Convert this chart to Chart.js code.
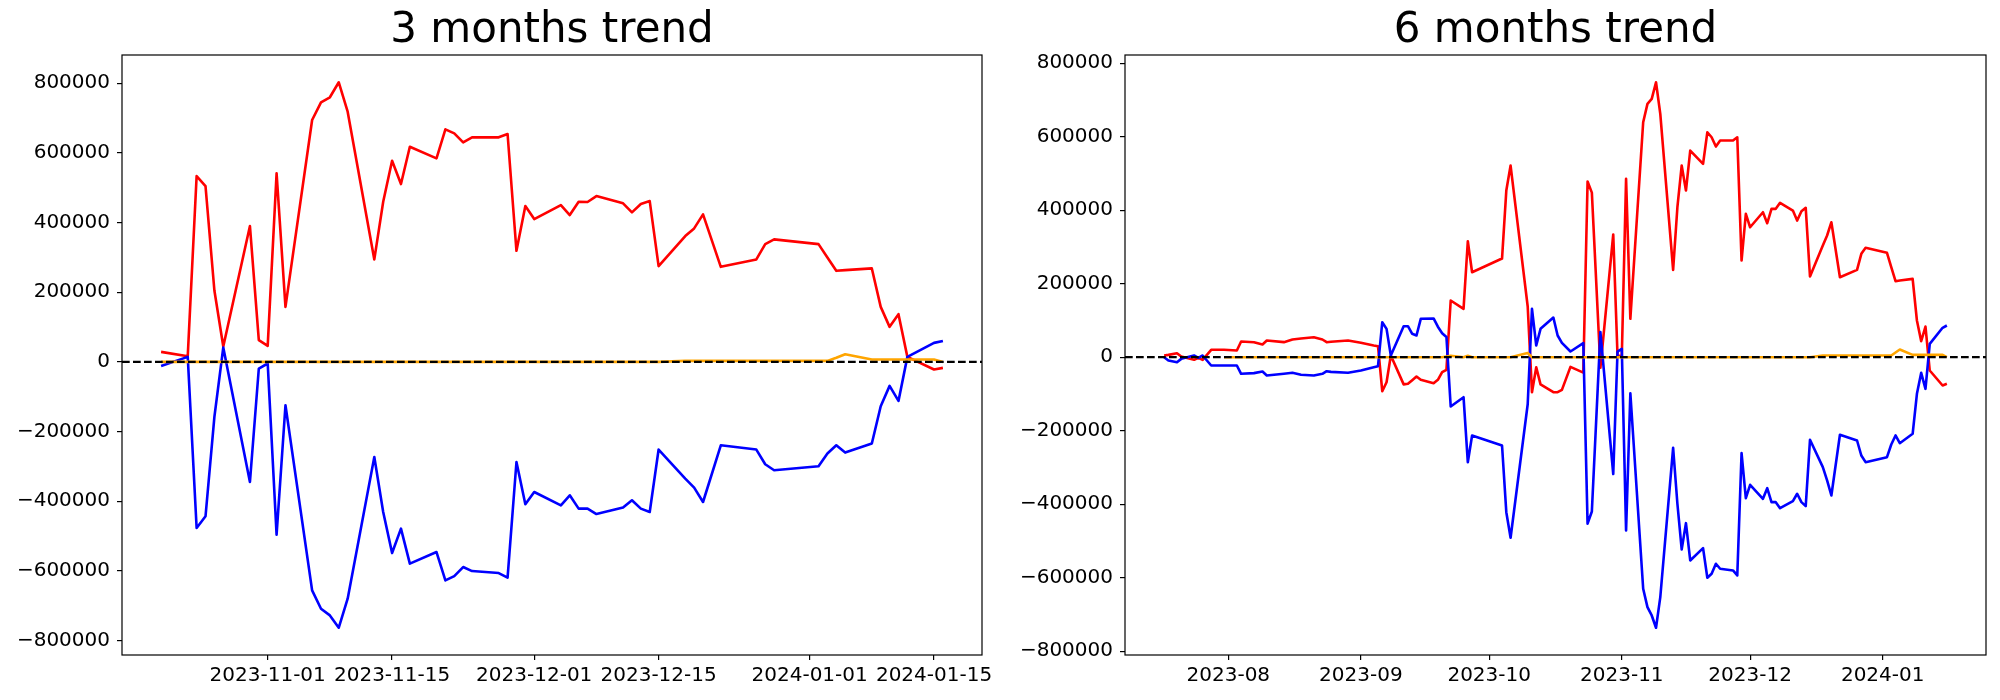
<!DOCTYPE html>
<html>
<head>
<meta charset="utf-8">
<title>Trend</title>
<script src="https://cdn.jsdelivr.net/npm/chart.js@4.4.1/dist/chart.umd.min.js"></script>
<style>
    body { margin: 0; background: #fff; }
    #wrap { position: relative; width: 2000px; height: 700px; }
    canvas { position: absolute; top: 0; }
</style>
</head>
<body>
<div id="wrap">
    <canvas id="chart3m" width="1000" height="700" style="left:0"></canvas>
    <canvas id="chart6m" width="1000" height="700" style="left:1000px"></canvas>
</div>
<script>
// 3 months data
const dates3m = [
    '2023-10-20', '2023-10-23', '2023-10-24', '2023-10-25', '2023-10-26', '2023-10-27', '2023-10-30', '2023-10-31',
    '2023-11-01', '2023-11-02', '2023-11-03', '2023-11-06', '2023-11-07', '2023-11-08', '2023-11-09', '2023-11-10',
    '2023-11-13', '2023-11-14', '2023-11-15', '2023-11-16', '2023-11-17', '2023-11-20', '2023-11-21', '2023-11-22',
    '2023-11-23', '2023-11-24', '2023-11-27', '2023-11-28', '2023-11-29', '2023-11-30',
    '2023-12-01', '2023-12-04', '2023-12-05', '2023-12-06', '2023-12-07', '2023-12-08', '2023-12-11', '2023-12-12',
    '2023-12-13', '2023-12-14', '2023-12-15', '2023-12-18', '2023-12-19', '2023-12-20', '2023-12-22', '2023-12-26',
    '2023-12-27', '2023-12-28',
    '2024-01-02', '2024-01-03', '2024-01-04', '2024-01-05', '2024-01-08', '2024-01-09', '2024-01-10', '2024-01-11',
    '2024-01-12', '2024-01-15', '2024-01-16'
];
const red3m = [
    28700, 16400, 533600, 504900, 205000, 44000, 390000, 62400,
    46000, 541300, 158000, 694600, 745400, 759800, 802900, 718400, 294300, 459800, 577600, 510600, 617800,
    584500, 667800, 656300, 630500, 644800, 644800, 654300, 319000, 447400,
    410000, 450300, 421600, 459800, 459000, 476200, 455200, 429300, 453200, 461800, 275000, 361200, 383300,
    423500, 273000, 294300, 338200, 351700,
    338200, 300000, 261500, 263500, 268400, 158000, 100600, 137100, 14400, -21900, -17200
];
const blue3m = [
    -11500, 14400, -477000, -443400, -158000, 41400, -344800, -19000,
    -4600, -496000, -124400, -656000, -708700, -727900, -763300, -680000, -273000, -431000, -548900, -478800,
    -579400, -546000, -627400, -615000, -589100, -600600, -606300, -619600, -287400, -408900,
    -373600, -411800, -383000, -421300, -421300, -436800, -418400, -397400, -421300, -431000, -251700, -335100,
    -361000, -402300, -239400, -251700, -294000, -311200,
    -299700, -263200, -239400, -260400, -234500, -127300, -68900, -112000, 14400, 54600, 60300
];
const orange3m = [
    0, 0, 0, 0, 0, 0, 0, 0,
    0, 0, 0, 0, 0, 0, 0, 0, 0, 0, 0, 0, 0, 0, 0, 0, 0, 0, 0, 0, 0, 0,
    0, 0, 0, 0, 0, 0, 0, 0, 0, 0, 0, 2900, 2900, 2900, 2900, 2900, 2900, 2900,
    2900, 2900, 12000, 22100, 6900, 6900, 6900, 6900, 6900, 6900, 0
];

// 6 months data
const dates6m = [
    '2023-07-17', '2023-07-18', '2023-07-20', '2023-07-21', '2023-07-24', '2023-07-25', '2023-07-26', '2023-07-28',
    '2023-07-31',
    '2023-08-03', '2023-08-04', '2023-08-07', '2023-08-09', '2023-08-10', '2023-08-14', '2023-08-16', '2023-08-18',
    '2023-08-21', '2023-08-23', '2023-08-24', '2023-08-25', '2023-08-29',
    '2023-09-01', '2023-09-04', '2023-09-05', '2023-09-06', '2023-09-07', '2023-09-08', '2023-09-11', '2023-09-12',
    '2023-09-13', '2023-09-14', '2023-09-15', '2023-09-18', '2023-09-19', '2023-09-20', '2023-09-21', '2023-09-22',
    '2023-09-25', '2023-09-26', '2023-09-27',
    '2023-10-04', '2023-10-05', '2023-10-06', '2023-10-10', '2023-10-11', '2023-10-12', '2023-10-13', '2023-10-16',
    '2023-10-17', '2023-10-18', '2023-10-20', '2023-10-23', '2023-10-24', '2023-10-25', '2023-10-27', '2023-10-30',
    '2023-10-31',
    '2023-11-01', '2023-11-02', '2023-11-03', '2023-11-06', '2023-11-07', '2023-11-08', '2023-11-09', '2023-11-10',
    '2023-11-13', '2023-11-14', '2023-11-15', '2023-11-16', '2023-11-17', '2023-11-20', '2023-11-21', '2023-11-22',
    '2023-11-23', '2023-11-24', '2023-11-27', '2023-11-28', '2023-11-29', '2023-11-30',
    '2023-12-01', '2023-12-04', '2023-12-05', '2023-12-06', '2023-12-07', '2023-12-08', '2023-12-11', '2023-12-12',
    '2023-12-13', '2023-12-14', '2023-12-15', '2023-12-18', '2023-12-19', '2023-12-20', '2023-12-22', '2023-12-26',
    '2023-12-27', '2023-12-28',
    '2024-01-02', '2024-01-03', '2024-01-04', '2024-01-05', '2024-01-08', '2024-01-09', '2024-01-10', '2024-01-11',
    '2024-01-12', '2024-01-15', '2024-01-16'
];
const red6m = [
    4600, 6400, 10900, 1900, -7100, -1600, -7100, 20100, 20300,
    18200, 42700, 40800, 34600, 45400, 41000, 48200, 51000, 54400, 48200, 40800, 42000, 45400,
    39200, 31800, 30000, -92500, -68000, 4600, -74000, -72400, -62500, -52500, -61500, -70700, -61500, -40800,
    -34300, 154300, 131700, 315700, 231300,
    268500, 453600, 521600, 138000, -95200, -27200, -74000, -95200, -95200, -89000, -26400, -42000, 478000,
    448000, -28800, 334000, 5000,
    2000, 485500, 104500, 639500, 689500, 703100, 748300, 662300, 237800, 408200, 521600, 453600, 562500,
    526200, 612200, 598600, 573300, 589700, 589700, 598600, 263100, 390200,
    353700, 394600, 364600, 403800, 403800, 420100, 399200, 372000, 397300, 406500, 219600, 304000, 331200,
    367400, 217700, 237800, 281400, 297700,
    284100, 245000, 206800, 209000, 213300, 99900, 43500, 83500, -36200, -77000, -72400
];
const blue6m = [
    0, -9000, -13600, -4500, 4600, -1600, 4600, -22600, -22600,
    -22600, -45200, -43400, -38900, -49800, -45200, -42500, -47900, -49800, -45200, -38100, -40000, -42500,
    -36200, -27200, -24500, 95200, 77200, 4600, 84400, 84400, 63700, 59000, 104500, 105500, 83000, 65300,
    55000, -134200, -108800, -285700, -213000,
    -240300, -421800, -491500, -128000, 131700, 31800, 77200, 108000, 59000, 39000, 15500, 38500, -453000,
    -420000, 68200, -318000, 15000,
    23000, -471700, -98200, -630300, -680300, -702900, -736300, -653000, -246500, -398900, -523300, -451700,
    -553200, -519700, -600300, -589400, -562200, -575800, -580400, -594000, -261200, -383700,
    -347300, -385400, -356400, -394500, -394500, -410800, -391800, -371700, -394500, -405300, -224800, -299300,
    -335500, -376300, -211200, -226700, -267500, -285700,
    -272100, -237600, -213000, -234000, -208500, -99600, -42500, -86000, 36400, 80000, 86300
];
const orange6m = [
    null, null, null, null, null, null, null, null, 0,
    0, 0, 0, 0, 0, 0, 0, 0, 0, 0, 0, 0, 0,
    0, 0, 0, 0, 0, 0, 0, 0, 0, 0, 0, 0, 0, 0, 2000, 4000, 0, 4000, 0,
    0, 0, 0, 11500, 0, 0, 0, 0, 0, 0, 0, 0, 0, 0, 0, 0, 0,
    0, 0, 0, 0, 0, 0, 0, 0, 0, 0, 0, 0, 0, 0, 0, 0, 0, 0, 0, 0, 0, 0,
    0, 0, 0, 0, 0, 0, 0, 0, 0, 0, 0, 4600, 4600, 4600, 4600, 4600, 4600, 4600,
    4600, 4600, 12800, 21000, 6400, 6400, 6400, 6400, 6400, 6400, 0
];

// tick labels
const xTicks3m = ['2023-11-01', '2023-11-15', '2023-12-01', '2023-12-15', '2024-01-01', '2024-01-15'];
const xTicks6m = ['2023-08-01', '2023-09-01', '2023-10-01', '2023-11-01', '2023-12-01', '2024-01-01'];
const yTicks = [-800000, -600000, -400000, -200000, 0, 200000, 400000, 600000, 800000];

const tickFont = { family: 'DejaVu Sans', size: 20 };

function toDay(s) {
    return Date.parse(s) / 86400000;
}

function points(dates, values) {
    return dates.map(function(d, i) { return { x: toDay(d), y: values[i] }; });
}

// same 5% margins as matplotlib
function padRange(vals) {
    const v = vals.filter(function(n) { return n !== null; });
    const lo = Math.min.apply(null, v);
    const hi = Math.max.apply(null, v);
    const m = (hi - lo) * 0.05;
    return [lo - m, hi + m];
}

// dashed zero line + box around the plot
const zeroLineAndFrame = {
    id: 'zeroLineAndFrame',
    afterDatasetsDraw: function(chart) {
        const ctx = chart.ctx;
        const a = chart.chartArea;
        const y0 = chart.scales.y.getPixelForValue(0);
        ctx.save();
        ctx.strokeStyle = '#000';
        ctx.lineWidth = 2.2;
        ctx.setLineDash([7.7, 3.3]);
        ctx.beginPath();
        ctx.moveTo(a.left, y0);
        ctx.lineTo(a.right, y0);
        ctx.stroke();
        ctx.setLineDash([]);
        ctx.lineWidth = 1.2;
        ctx.strokeRect(a.left, a.top, a.right - a.left, a.bottom - a.top);
        ctx.restore();
    }
};

function makeChart(id, title, dates, red, blue, orange, xTicks, labelLen, yWidth, padRight) {
    const xr = padRange(dates.map(toDay));
    const yr = padRange(red.concat(blue, orange));
    return new Chart(document.getElementById(id), {
        type: 'line',
        data: {
            datasets: [
                { data: points(dates, red), borderColor: '#ff0000', borderWidth: 2.6, order: 2 },
                { data: points(dates, blue), borderColor: '#0000ff', borderWidth: 2.6, order: 1 },
                { data: points(dates, orange), borderColor: '#ffa500', borderWidth: 2.6, order: 0 }
            ]
        },
        options: {
            responsive: false,
            animation: false,
            devicePixelRatio: 1,
            layout: { padding: { left: 0, right: padRight, top: 0, bottom: 0 } },
            elements: {
                line: { tension: 0, borderJoinStyle: 'round', fill: false },
                point: { radius: 0, hoverRadius: 0 }
            },
            plugins: {
                legend: { display: false },
                tooltip: { enabled: false },
                title: {
                    display: true,
                    text: title,
                    fullSize: false,
                    color: '#000',
                    font: { family: 'DejaVu Sans', size: 42, weight: 'normal', lineHeight: 1 },
                    padding: { top: 10, bottom: 3 }
                }
            },
            scales: {
                x: {
                    type: 'linear',
                    min: xr[0],
                    max: xr[1],
                    afterBuildTicks: function(s) {
                        s.ticks = xTicks.map(function(d) { return { value: toDay(d) }; });
                    },
                    afterFit: function(s) { s.height = 45; },
                    grid: { drawOnChartArea: false, drawTicks: true, tickLength: 5, color: '#000', lineWidth: 1.2 },
                    border: { display: false },
                    ticks: {
                        autoSkip: false,
                        maxRotation: 0,
                        padding: 4,
                        color: '#000',
                        font: tickFont,
                        callback: function(v) {
                            return new Date(v * 86400000).toISOString().slice(0, labelLen);
                        }
                    }
                },
                y: {
                    min: yr[0],
                    max: yr[1],
                    afterBuildTicks: function(s) {
                        s.ticks = yTicks.map(function(v) { return { value: v }; });
                    },
                    afterFit: function(s) { s.width = yWidth; },
                    grid: { drawOnChartArea: false, drawTicks: true, tickLength: 5, color: '#000', lineWidth: 1.2 },
                    border: { display: false },
                    ticks: {
                        padding: 7,
                        color: '#000',
                        font: tickFont,
                        callback: function(v) {
                            return v < 0 ? '\u2212' + Math.abs(v) : String(v);
                        }
                    }
                }
            }
        },
        plugins: [zeroLineAndFrame]
    });
}

makeChart('chart3m', '3 months trend', dates3m, red3m, blue3m, orange3m, xTicks3m, 10, 122, 18);
makeChart('chart6m', '6 months trend', dates6m, red6m, blue6m, orange6m, xTicks6m, 7, 125, 14);
</script>
</body>
</html>
